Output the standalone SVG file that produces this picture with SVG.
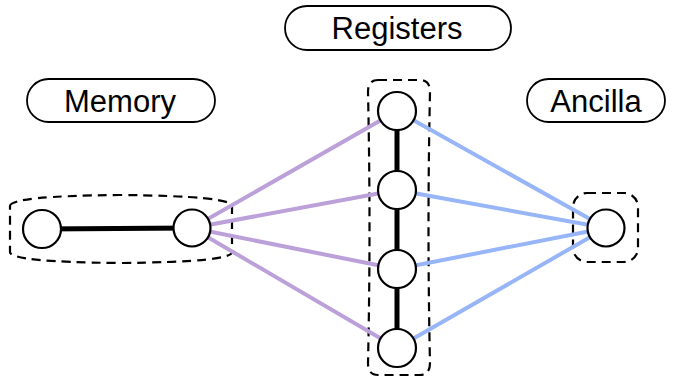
<svg xmlns="http://www.w3.org/2000/svg" width="684" height="378" viewBox="0 0 684 378">
<style>
.pill{fill:#fff;stroke:#000;stroke-width:1.8}
.lbl{font-family:"Liberation Sans",Arial,sans-serif;font-size:31px;fill:#000;text-anchor:middle}
.grp{fill:none;stroke:#000;stroke-width:2.2;stroke-dasharray:9 6}
.node{fill:#fff;stroke:#000;stroke-width:2.2}
.p{stroke:#bba0da;stroke-width:4;stroke-linecap:round}
.b{stroke:#97b5f7;stroke-width:4;stroke-linecap:round}
.k{stroke:#000;stroke-width:5}
</style>
<rect width="684" height="378" fill="#fff"/>
<g id="label-registers"><rect class="pill" x="285" y="6" width="226" height="44" rx="22"/><text class="lbl" x="397" y="39">Registers</text></g>
<g id="label-memory"><rect class="pill" x="27" y="79" width="188" height="43" rx="21.5"/><text class="lbl" x="120" y="112">Memory</text></g>
<g id="label-ancilla"><rect class="pill" x="527" y="79" width="138" height="43" rx="21.5"/><text class="lbl" x="596" y="112">Ancilla</text></g>
<g id="group-memory"><path class="grp" d="M10,206 Q10,196 120,195 Q232,196 232,206 L232,252 Q232,262 120,263 Q10,262 10,252 Z"/></g>
<g id="group-registers"><path class="grp" d="M378,80 L420,80 Q430,80 430,92 Q427,228 430,363 Q430,375 420,375 L378,375 Q368,375 368,363 Q371,228 368,92 Q368,80 378,80 Z"/></g>
<g id="group-ancilla"><rect class="grp" x="573" y="193" width="65" height="69" rx="14"/></g>
<g id="connectors">
<line class="p" x1="192" y1="228" x2="397" y2="111"/>
<line class="p" x1="192" y1="228" x2="397" y2="190"/>
<line class="p" x1="192" y1="228" x2="397" y2="269"/>
<line class="p" x1="192" y1="228" x2="397" y2="348"/>
<line class="b" x1="397" y1="111" x2="606" y2="228"/>
<line class="b" x1="397" y1="190" x2="606" y2="228"/>
<line class="b" x1="397" y1="269" x2="606" y2="228"/>
<line class="b" x1="397" y1="348" x2="606" y2="228"/>
<line class="k" x1="42" y1="229" x2="192" y2="228"/>
<line class="k" x1="397" y1="111" x2="397" y2="348"/>
</g>
<g id="m1"><circle class="node" cx="42" cy="229" r="19"/></g>
<g id="m2"><circle class="node" cx="192" cy="228" r="18.5"/></g>
<g id="r1"><circle class="node" cx="397" cy="111" r="19"/></g>
<g id="r2"><circle class="node" cx="397" cy="190" r="19"/></g>
<g id="r3"><circle class="node" cx="397" cy="269" r="19"/></g>
<g id="r4"><circle class="node" cx="397" cy="348" r="19"/></g>
<g id="a1"><circle class="node" cx="606" cy="228" r="18.5"/></g>
</svg>
